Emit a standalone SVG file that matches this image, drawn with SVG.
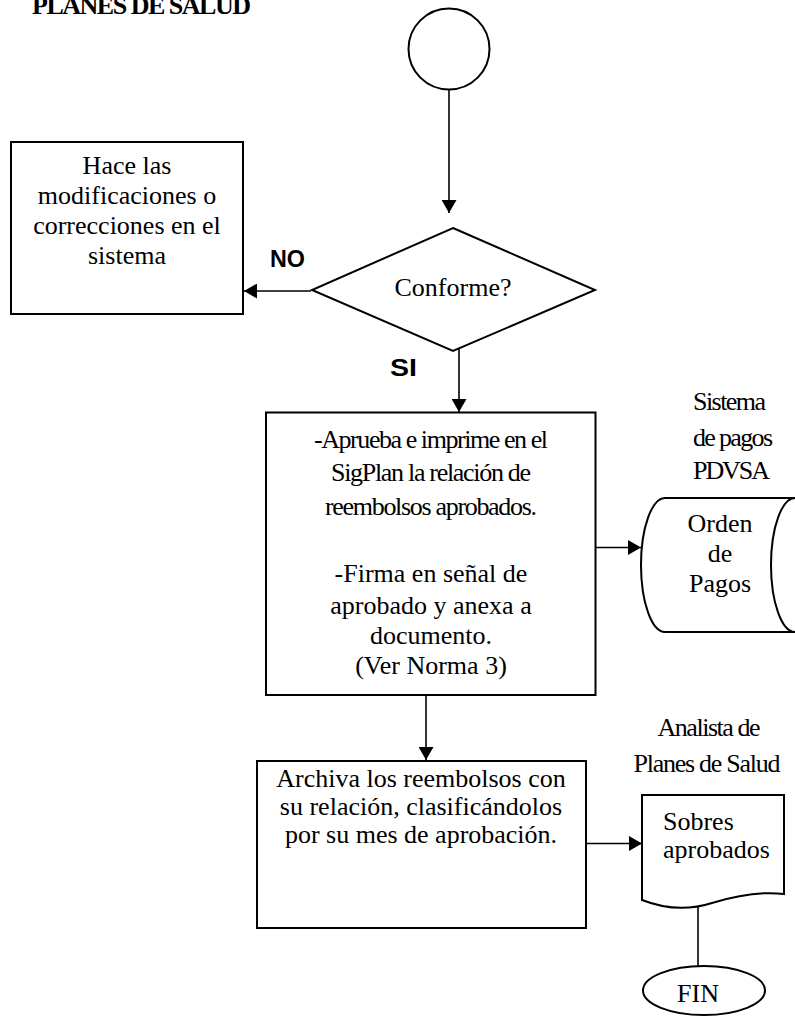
<svg xmlns="http://www.w3.org/2000/svg" width="795" height="1017" viewBox="0 0 795 1017">
  <style>
    .shape { fill: #ffffff; stroke: #000000; stroke-width: 2; }
    .conn { fill: none; stroke: #000000; stroke-width: 1.6; }
    .t { font-family: "Liberation Serif", "Times New Roman", serif; font-size: 26px; fill: #000000; }
    .c { text-anchor: middle; }
    .lbl { font-family: "Liberation Sans", Arial, sans-serif; font-weight: bold; font-size: 24px; fill: #000000; }
  </style>
  <defs>
    <marker id="arrow" markerUnits="userSpaceOnUse" markerWidth="15" markerHeight="15" refX="13" refY="7.5" orient="auto">
      <path d="M0,0 L13,7.5 L0,15 Z" fill="#000000"/>
    </marker>
  </defs>
  <rect width="795" height="1017" fill="#ffffff"/>

  <g id="title">
    <text class="t" x="32" y="14" font-weight="bold" textLength="219">PLANES DE SALUD</text>
  </g>

  <g id="connectors">
    <line class="conn" x1="449" y1="89.5" x2="449" y2="213" marker-end="url(#arrow)"/>
    <line class="conn" x1="311" y1="291" x2="244" y2="291" marker-end="url(#arrow)"/>
    <line class="conn" x1="459" y1="349" x2="459" y2="412" marker-end="url(#arrow)"/>
    <line class="conn" x1="596" y1="547.5" x2="641" y2="547.5" marker-end="url(#arrow)"/>
    <line class="conn" x1="426" y1="695" x2="426" y2="760" marker-end="url(#arrow)"/>
    <line class="conn" x1="586" y1="843.5" x2="642" y2="843.5" marker-end="url(#arrow)"/>
    <line class="conn" x1="698" y1="906" x2="698" y2="966"/>
  </g>

  <g id="start">
    <circle class="shape" cx="449" cy="49" r="40.5"/>
  </g>

  <g id="decision">
    <polygon class="shape" points="453,228 595,290 453,351 312,290"/>
    <text class="t c" x="453" y="296">Conforme?</text>
  </g>

  <g id="label-no">
    <text class="lbl" x="270" y="267" textLength="35" lengthAdjust="spacingAndGlyphs">NO</text>
  </g>
  <g id="label-si">
    <text class="lbl" x="390" y="376" textLength="27" lengthAdjust="spacingAndGlyphs">SI</text>
  </g>

  <g id="modify">
    <rect class="shape" x="11" y="142" width="232" height="172"/>
    <text class="t c" x="127" y="174">Hace las</text>
    <text class="t c" x="127" y="204">modificaciones o</text>
    <text class="t c" x="127" y="234">correcciones en el</text>
    <text class="t c" x="127" y="264">sistema</text>
  </g>

  <g id="approve">
    <rect class="shape" x="266" y="412.5" width="329.5" height="282.5"/>
    <text class="t c" x="431" y="448" textLength="234">-Aprueba e imprime en el</text>
    <text class="t c" x="431" y="481" textLength="200">SigPlan la relación de</text>
    <text class="t c" x="431" y="515" textLength="212">reembolsos aprobados.</text>
    <text class="t c" x="431" y="582">-Firma en señal de</text>
    <text class="t c" x="431" y="614">aprobado y anexa a</text>
    <text class="t c" x="431" y="644">documento.</text>
    <text class="t c" x="431" y="674">(Ver Norma 3)</text>
  </g>

  <g id="system-label">
    <text class="t" x="693" y="410" textLength="73">Sistema</text>
    <text class="t" x="693" y="446" textLength="80">de pagos</text>
    <text class="t" x="693" y="479" textLength="77">PDVSA</text>
  </g>

  <g id="payment-order">
    <path class="shape" d="M795,498 H665 A24,67 0 0 0 665,632 H795"/>
    <ellipse class="shape" cx="795" cy="565" rx="24" ry="67"/>
    <text class="t c" x="720" y="532">Orden</text>
    <text class="t c" x="720" y="562">de</text>
    <text class="t c" x="720" y="592">Pagos</text>
  </g>

  <g id="archive">
    <rect class="shape" x="257" y="761" width="329" height="167"/>
    <text class="t c" x="421" y="787">Archiva los reembolsos con</text>
    <text class="t c" x="421" y="815">su relación, clasificándolos</text>
    <text class="t c" x="421" y="843">por su mes de aprobación.</text>
  </g>

  <g id="analyst-label">
    <text class="t c" x="709" y="736" textLength="103">Analista de</text>
    <text class="t c" x="707" y="772" textLength="147">Planes de Salud</text>
  </g>

  <g id="document">
    <path class="shape" d="M642,795 H784 V894 C760,891 735,896 712,903 C690,910 665,909 642,900 Z"/>
    <text class="t" x="663" y="830">Sobres</text>
    <text class="t" x="663" y="858">aprobados</text>
  </g>

  <g id="end">
    <ellipse class="shape" cx="704" cy="990.5" rx="61" ry="24.5"/>
    <text class="t c" x="698" y="1002">FIN</text>
  </g>
</svg>
